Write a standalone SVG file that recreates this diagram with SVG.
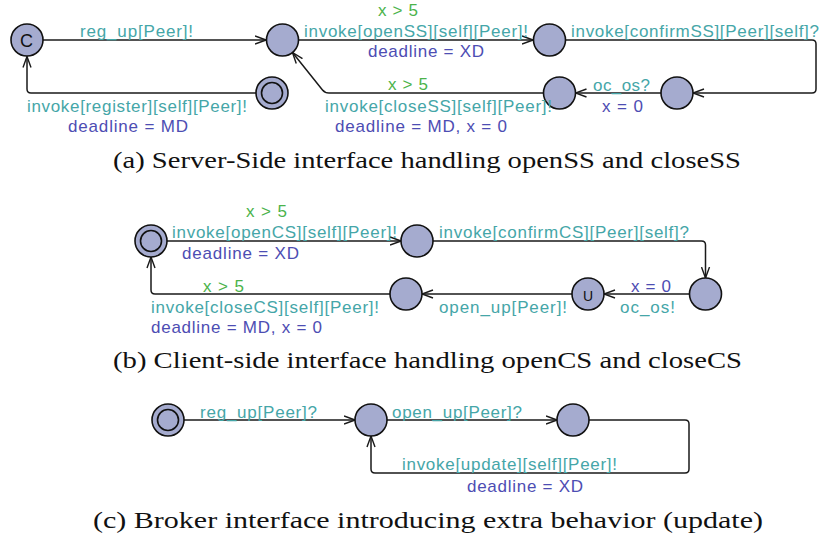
<svg xmlns="http://www.w3.org/2000/svg" width="821" height="539" viewBox="0 0 821 539">
<style>
.loc{fill:#a5abcf;stroke:#111;stroke-width:1.6}
.inner{fill:none;stroke:#111;stroke-width:1.6}
.edge{fill:none;stroke:#1a1a1a;stroke-width:1.5;marker-end:url(#arr)}
.lbl{font-family:"Liberation Sans",Arial,sans-serif;font-size:17px}
.sync{fill:#45a6a8}
.guard{fill:#4bb34b}
.asg{fill:#4d4db3}
.sym{font-family:"Liberation Sans",Arial,sans-serif;fill:#111;text-anchor:middle}
.cap{font-family:"Liberation Serif","Times New Roman",serif;font-size:23px;fill:#111}
</style>
<defs>
<marker id="arr" viewBox="0 0 12 10" refX="11.5" refY="5" markerWidth="12" markerHeight="10" markerUnits="userSpaceOnUse" orient="auto">
<path d="M0.5,1 L11.5,5 L0.5,9" fill="none" stroke="#1a1a1a" stroke-width="1.4"/>
</marker>
</defs>

<g id="connectors">
<path class="edge" d="M43,40 H266"/>
<path class="edge" d="M298.5,40 H533"/>
<path class="edge" d="M565.5,40 H812 Q816,40 816,44 V89 Q816,93 812,93 H693"/>
<path class="edge" d="M661,93 H575.5"/>
<path class="edge" d="M543.5,93 H329 Q325,93 322.5,90 L292.5,52.5"/>
<path class="edge" d="M256,93 H31 Q27,93 27,89 V56.5"/>

<path class="edge" d="M167,241 H401"/>
<path class="edge" d="M433,241 H701.5 Q705.5,241 705.5,245 V278"/>
<path class="edge" d="M689.5,294 H604"/>
<path class="edge" d="M572,294 H422"/>
<path class="edge" d="M390,294 H155 Q151,294 151,290 V257"/>

<path class="edge" d="M184,420 H355"/>
<path class="edge" d="M387,420 H557"/>
<path class="edge" d="M589,420 H685 Q689,420 689,424 V469 Q689,473 685,473 H375 Q371,473 371,469 V436"/>
</g>

<g id="a_committed"><circle class="loc" cx="27" cy="40" r="16"/><text class="sym" x="26.5" y="46.5" font-size="18">C</text></g>
<g id="a_s1"><circle class="loc" cx="282.5" cy="40" r="16"/></g>
<g id="a_s2"><circle class="loc" cx="549.5" cy="40" r="16"/></g>
<g id="a_s3"><circle class="loc" cx="677" cy="93" r="16"/></g>
<g id="a_s4"><circle class="loc" cx="559.5" cy="93" r="16"/></g>
<g id="a_init"><circle class="loc" cx="272" cy="93" r="16"/><circle class="inner" cx="272" cy="93" r="10.5"/></g>

<g id="b_init"><circle class="loc" cx="151" cy="241" r="16"/><circle class="inner" cx="151" cy="241" r="10.5"/></g>
<g id="b_s1"><circle class="loc" cx="417" cy="241" r="16"/></g>
<g id="b_s2"><circle class="loc" cx="705.5" cy="294" r="16"/></g>
<g id="b_urgent"><circle class="loc" cx="588" cy="294" r="16"/><text class="sym" x="588" y="301" font-size="14">U</text></g>
<g id="b_s3"><circle class="loc" cx="406" cy="294" r="16"/></g>

<g id="c_init"><circle class="loc" cx="168" cy="420" r="16"/><circle class="inner" cx="168" cy="420" r="10.5"/></g>
<g id="c_s1"><circle class="loc" cx="371" cy="420" r="16"/></g>
<g id="c_s2"><circle class="loc" cx="573" cy="420" r="16"/></g>

<g id="labels" class="lbl">
<text class="sync" x="80" y="37" textLength="113">reg_up[Peer]!</text>
<text class="guard" x="378" y="16" textLength="40">x &gt; 5</text>
<text class="sync" x="304" y="37" textLength="224">invoke[openSS][self][Peer]!</text>
<text class="asg" x="368" y="57" textLength="116">deadline = XD</text>
<text class="sync" x="571" y="37" textLength="248">invoke[confirmSS][Peer][self]?</text>
<text class="sync" x="593" y="91" textLength="57">oc_os?</text>
<text class="asg" x="602" y="112" textLength="41">x = 0</text>
<text class="guard" x="388" y="90" textLength="40">x &gt; 5</text>
<text class="sync" x="325" y="112" textLength="227">invoke[closeSS][self][Peer]!</text>
<text class="asg" x="335" y="132" textLength="172">deadline = MD, x = 0</text>
<text class="sync" x="27" y="112" textLength="220">invoke[register][self][Peer]!</text>
<text class="asg" x="68" y="132" textLength="120">deadline = MD</text>

<text class="guard" x="246" y="217" textLength="41">x &gt; 5</text>
<text class="sync" x="172" y="238" textLength="225">invoke[openCS][self][Peer]!</text>
<text class="asg" x="182" y="259" textLength="117">deadline = XD</text>
<text class="sync" x="439" y="238" textLength="250">invoke[confirmCS][Peer][self]?</text>
<text class="asg" x="631" y="292" textLength="40">x = 0</text>
<text class="sync" x="620" y="313" textLength="55">oc_os!</text>
<text class="sync" x="439" y="313" textLength="128">open_up[Peer]!</text>
<text class="guard" x="203" y="292" textLength="41">x &gt; 5</text>
<text class="sync" x="151" y="313" textLength="228">invoke[closeCS][self][Peer]!</text>
<text class="asg" x="151" y="333" textLength="171">deadline = MD, x = 0</text>

<text class="sync" x="200" y="418" textLength="117">reg_up[Peer]?</text>
<text class="sync" x="392" y="418" textLength="130">open_up[Peer]?</text>
<text class="sync" x="402" y="470" textLength="215">invoke[update][self][Peer]!</text>
<text class="asg" x="467" y="492" textLength="116">deadline = XD</text>
</g>

<g id="captions">
<text class="cap" x="113" y="168" textLength="628" lengthAdjust="spacingAndGlyphs">(a) Server-Side interface handling openSS and closeSS</text>
<text class="cap" x="113" y="368" textLength="629" lengthAdjust="spacingAndGlyphs">(b) Client-side interface handling openCS and closeCS</text>
<text class="cap" x="93" y="528" textLength="670" lengthAdjust="spacingAndGlyphs">(c) Broker interface introducing extra behavior (update)</text>
</g>
</svg>
